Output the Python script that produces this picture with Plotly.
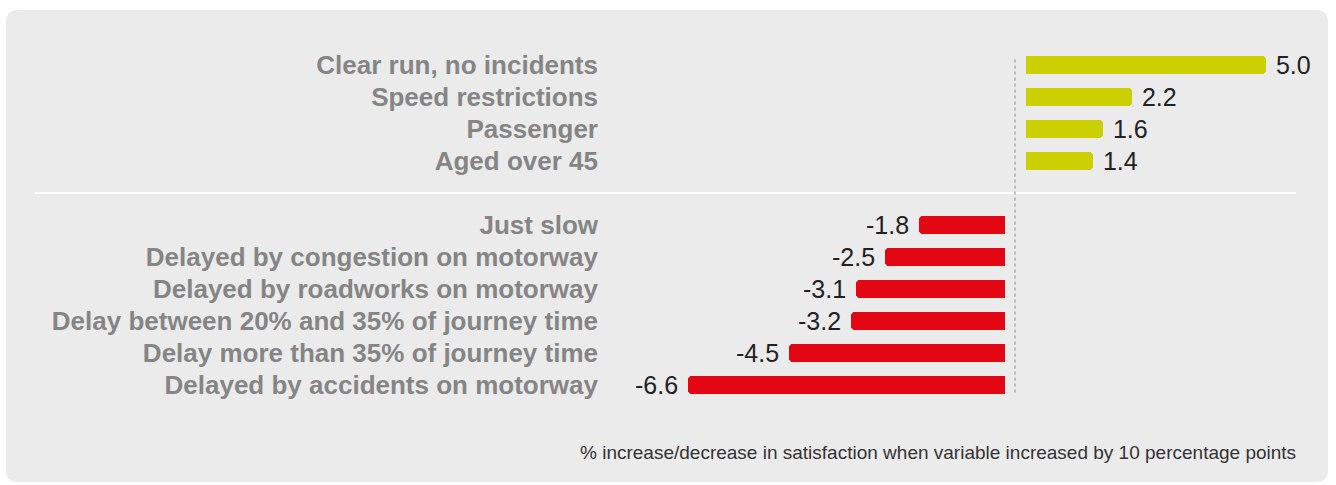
import plotly.graph_objects as go

# ---- data ----
pos_labels = ["Clear run, no incidents", "Speed restrictions", "Passenger", "Aged over 45"]
pos_values = [5.0, 2.2, 1.6, 1.4]
neg_labels = ["Just slow", "Delayed by congestion on motorway", "Delayed by roadworks on motorway",
              "Delay between 20% and 35% of journey time", "Delay more than 35% of journey time",
              "Delayed by accidents on motorway"]
neg_values = [-1.8, -2.5, -3.1, -3.2, -4.5, -6.6]
note_text = "% increase/decrease in satisfaction when variable increased by 10 percentage points"

# ---- layout constants ----
W, H = 1336, 485
PX_PER_UNIT = 48
LEFT_DOM = (599, 1005)
RIGHT_DOM = (1026, 1332)
ROW0, ROW_H = 65, 32
YELLOW = "#cdd000"
RED = "#e30613"
LABEL_GREY = "#858585"
VALUE_COLOR = "#222222"
PANEL = "#ebebeb"

pos_rows = list(range(len(pos_values)))
sep_row = len(pos_values)
neg_rows = [sep_row + 1 + i for i in range(len(neg_values))]

value_font = dict(family="Liberation Sans", size=25, color=VALUE_COLOR)
NBSP = "\u00a0"

fig = go.Figure()
fig.add_trace(go.Bar(
    x=neg_values, y=neg_rows, orientation="h", xaxis="x", yaxis="y",
    marker=dict(color=RED, cornerradius=4, line=dict(width=0)), width=0.56,
    text=[f"{v:.1f}" for v in neg_values], texttemplate="%{text}" + NBSP,
    textposition="outside", textfont=value_font, cliponaxis=False,
    constraintext="none", hoverinfo="skip", showlegend=False))
fig.add_trace(go.Bar(
    x=pos_values, y=pos_rows, orientation="h", xaxis="x2", yaxis="y",
    marker=dict(color=YELLOW, cornerradius=4, line=dict(width=0)), width=0.56,
    text=[f"{v:.1f}" for v in pos_values], texttemplate=NBSP + "%{text}",
    textposition="outside", textfont=value_font, cliponaxis=False,
    constraintext="none", hoverinfo="skip", showlegend=False))

def px(x):
    return x / W

def py(y):
    return 1 - y / H

# rounded panel background
x0, x1, y0, y1, r = 6, 1328, 10, 482, 12
rx, ry = r / W, r / H
path = (f"M {px(x0)+rx},{py(y0)} L {px(x1)-rx},{py(y0)} Q {px(x1)},{py(y0)} {px(x1)},{py(y0)-ry} "
        f"L {px(x1)},{py(y1)+ry} Q {px(x1)},{py(y1)} {px(x1)-rx},{py(y1)} "
        f"L {px(x0)+rx},{py(y1)} Q {px(x0)},{py(y1)} {px(x0)},{py(y1)+ry} "
        f"L {px(x0)},{py(y0)-ry} Q {px(x0)},{py(y0)} {px(x0)+rx},{py(y0)} Z")

shapes = [
    dict(type="path", path=path, xref="paper", yref="paper", fillcolor=PANEL,
         line=dict(width=0), layer="below"),
    dict(type="line", xref="paper", yref="y", x0=px(35), x1=px(1296), y0=sep_row, y1=sep_row,
         line=dict(color="white", width=2), layer="below"),
    dict(type="line", xref="paper", yref="y", x0=px(1015), x1=px(1015),
         y0=-0.17, y1=len(pos_values) + len(neg_values) + 0.3,
         line=dict(color="#8a8a8a", width=1, dash="dot"), layer="above"),
]

fig.update_layout(
    width=W, height=H,
    margin=dict(l=0, r=0, t=0, b=0),
    paper_bgcolor="white", plot_bgcolor="rgba(0,0,0,0)",
    bargap=0,
    xaxis=dict(domain=[px(LEFT_DOM[0]), px(LEFT_DOM[1])],
               range=[-(LEFT_DOM[1] - LEFT_DOM[0]) / PX_PER_UNIT, 0],
               showgrid=False, zeroline=False, showticklabels=False, showline=False, anchor="y"),
    xaxis2=dict(domain=[px(RIGHT_DOM[0]), px(RIGHT_DOM[1])],
                range=[0, (RIGHT_DOM[1] - RIGHT_DOM[0]) / PX_PER_UNIT],
                showgrid=False, zeroline=False, showticklabels=False, showline=False, anchor="y"),
    yaxis=dict(domain=[0, 1], range=[(H - ROW0) / ROW_H, -ROW0 / ROW_H],
               tickvals=pos_rows + neg_rows, ticktext=pos_labels + neg_labels,
               tickfont=dict(family="Liberation Sans", size=26, color=LABEL_GREY, weight="bold"),
               showgrid=False, zeroline=False, showline=False, ticks="", anchor="x"),
    shapes=shapes,
    annotations=[dict(text=note_text, xref="paper", yref="paper", x=px(1298), y=py(452),
                      xanchor="right", yanchor="middle", showarrow=False,
                      font=dict(family="Liberation Sans", size=19, color="#333333"))],
)

fig.write_html("out.html")
